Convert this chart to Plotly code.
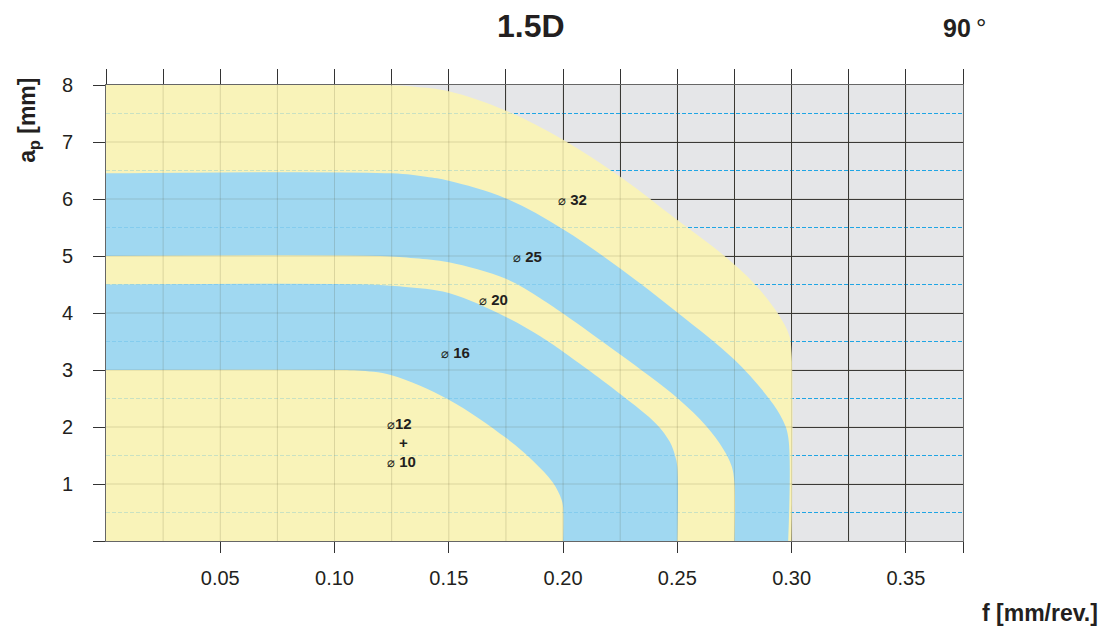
import plotly.graph_objects as go
import numpy as np

# ---------------- data ----------------
# boundary of each field: a_p limit vs feed f, ending with a vertical drop to a_p = 0
d32_f = [0.000, 0.120, 0.135, 0.150, 0.175, 0.200, 0.225, 0.250, 0.270, 0.284, 0.294, 0.299, 0.300, 0.300]
d32_ap = [8.00, 8.00, 7.97, 7.89, 7.55, 7.04, 6.39, 5.63, 5.02, 4.50, 3.99, 3.60, 3.30, 0.00]

d25_f = [0.000, 0.125, 0.140, 0.150, 0.175, 0.200, 0.225, 0.250, 0.275, 0.2905, 0.296, 0.2985, 0.2985]
d25_ap = [6.45, 6.45, 6.39, 6.32, 6.01, 5.47, 4.78, 4.01, 3.18, 2.48, 2.13, 1.83, 0.00]

d20_f = [0.000, 0.120, 0.135, 0.150, 0.175, 0.190, 0.200, 0.225, 0.250, 0.2628, 0.270, 0.2737, 0.275, 0.275]
d20_ap = [5.00, 5.00, 4.96, 4.89, 4.60, 4.26, 3.99, 3.27, 2.51, 2.01, 1.62, 1.32, 1.02, 0.00]

d16_f = [0.000, 0.115, 0.130, 0.150, 0.175, 0.190, 0.200, 0.225, 0.2409, 0.2467, 0.249, 0.250, 0.250]
d16_ap = [4.50, 4.50, 4.46, 4.35, 3.93, 3.59, 3.32, 2.58, 2.05, 1.74, 1.50, 1.30, 0.00]

d12_f = [0.000, 0.100, 0.110, 0.125, 0.150, 0.175, 0.187, 0.1956, 0.1993, 0.200, 0.200]
d12_ap = [3.00, 3.00, 2.99, 2.91, 2.48, 1.81, 1.40, 1.02, 0.73, 0.60, 0.00]

label_text = ["\u2300 32", "\u2300 25", "\u2300 20", "\u2300 16", "\u230012", "+", "\u2300 10"]
label_f = [0.197, 0.177, 0.1625, 0.1455, 0.1220, 0.130, 0.1222]
label_ap = [6.00, 5.00, 4.24, 3.30, 2.06, 1.72, 1.39]
label_anchor = ["left", "left", "left", "left", "left", "center", "left"]

x_tickvals = [0.05, 0.10, 0.15, 0.20, 0.25, 0.30, 0.35]
x_ticktext = ["0.05", "0.10", "0.15", "0.20", "0.25", "0.30", "0.35"]
y_tickvals = [1, 2, 3, 4, 5, 6, 7, 8]
y_ticktext = ["1", "2", "3", "4", "5", "6", "7", "8"]

# ---------------- style ----------------
YELLOW = "#f9f3b9"
BLUE = "#a0d8f1"
GREY = "#e5e6e8"
DARK = "#3a3a3a"
DASHBLUE = "#1fa6e4"
FONT = "Liberation Sans, Arial, Helvetica, sans-serif"
TXT = "#231f20"

X_MAX = 0.375
Y_MAX = 8
x_grid = np.round(np.arange(0, X_MAX + 1e-9, 0.025), 3)
y_half = np.arange(0.5, Y_MAX, 1.0)

fig = go.Figure()

regions = [(d32_f, d32_ap, YELLOW), (d25_f, d25_ap, BLUE), (d20_f, d20_ap, YELLOW),
           (d16_f, d16_ap, BLUE), (d12_f, d12_ap, YELLOW)]
for xs, ys, col in regions:
    fig.add_trace(go.Scatter(x=xs, y=ys, mode="lines",
                             line=dict(width=0, color=col, shape="spline", smoothing=1.0),
                             fill="tozeroy", fillcolor=col, hoverinfo="skip", showlegend=False))

# dummy traces for the extra tick axes (top ticks, edge ticks)
fig.add_trace(go.Scatter(x=[None], y=[None], xaxis="x2", showlegend=False, hoverinfo="skip"))
fig.add_trace(go.Scatter(x=[None], y=[None], xaxis="x3", yaxis="y2", showlegend=False, hoverinfo="skip"))

shapes = []
# bright dashed half-lines (seen in the grey field)
for yv in y_half:
    shapes.append(dict(type="line", xref="x", yref="y", x0=0, x1=X_MAX, y0=yv, y1=yv,
                       line=dict(color=DASHBLUE, width=1.2, dash="4px,2px"), layer="below"))
# faint grid lines shown through the coloured fields
for xv in x_grid[1:-1]:
    shapes.append(dict(type="line", xref="x", yref="y", x0=xv, x1=xv, y0=0, y1=Y_MAX,
                       line=dict(color="rgba(60,55,20,0.16)", width=1), layer="above"))
for yv in range(1, Y_MAX):
    shapes.append(dict(type="line", xref="x", yref="y", x0=0, x1=X_MAX, y0=yv, y1=yv,
                       line=dict(color="rgba(60,55,20,0.16)", width=1), layer="above"))
for yv in y_half:
    shapes.append(dict(type="line", xref="x", yref="y", x0=0, x1=X_MAX, y0=yv, y1=yv,
                       line=dict(color="rgba(31,166,228,0.22)", width=1, dash="4px,2px"), layer="above"))

annotations = []
for t, xv, yv, anc in zip(label_text, label_f, label_ap, label_anchor):
    txt = t.replace("\u2300", "<span style='font-size:13px;font-weight:normal'>\u2300</span>")
    annotations.append(dict(x=xv, y=yv, xref="x", yref="y", text="<b>" + txt + "</b>",
                            showarrow=False, xanchor=anc, yanchor="middle",
                            font=dict(family=FONT, size=15, color=TXT)))

annotations += [
    dict(x=0.4956, y=1.13, xref="paper", yref="paper", text="<b>1.5D</b>", showarrow=False,
         xanchor="center", yanchor="middle", font=dict(family=FONT, size=32, color=TXT)),
    dict(x=0.9745, y=1.126, xref="paper", yref="paper",
         text="<b>90</b><span style='font-size:26px'>\u2009\u00b0</span>", showarrow=False,
         xanchor="left", yanchor="middle", font=dict(family=FONT, size=25, color=TXT)),
    dict(x=-0.0905, y=0.9225, xref="paper", yref="paper", text="<b>a<sub>p</sub> [mm]</b>",
         showarrow=False, textangle=-90, xanchor="center", yanchor="middle",
         font=dict(family=FONT, size=23, color=TXT)),
    dict(x=1.0895, y=-0.157, xref="paper", yref="paper", text="<b>f [mm/rev.]</b>",
         showarrow=False, xanchor="center", yanchor="middle",
         font=dict(family=FONT, size=23, color=TXT)),
]

fig.update_layout(
    width=1106, height=633,
    margin=dict(l=98, r=151, t=77, b=100),
    paper_bgcolor="white", plot_bgcolor=GREY,
    showlegend=False,
    shapes=shapes, annotations=annotations,
    xaxis=dict(range=[0, X_MAX], tickvals=x_tickvals, ticktext=x_ticktext,
               ticks="outside", ticklen=11, tickcolor="#333", tickwidth=1,
               ticklabelstandoff=8,
               showgrid=True, gridcolor=DARK, gridwidth=1, zeroline=False,
               minor=dict(tickvals=list(x_grid), showgrid=True, gridcolor=DARK, gridwidth=1, ticks=""),
               showline=True, linecolor="#666", linewidth=1, mirror=True,
               tickfont=dict(family=FONT, size=20, color=TXT), fixedrange=True),
    xaxis2=dict(range=[0, X_MAX], overlaying="x", side="top", anchor="y",
                tickvals=list(x_grid), ticks="outside", ticklen=15, tickcolor="#333", tickwidth=1,
                showticklabels=False, showgrid=False, zeroline=False, showline=False),
    xaxis3=dict(range=[0, X_MAX], overlaying="x", side="bottom", anchor="y",
                tickvals=[X_MAX], ticks="outside", ticklen=11, tickcolor="#333", tickwidth=1,
                showticklabels=False, showgrid=False, zeroline=False, showline=False),
    yaxis=dict(range=[0, Y_MAX], tickvals=y_tickvals, ticktext=y_ticktext,
               ticks="outside", ticklen=12, tickcolor="#333", tickwidth=1,
               ticklabelstandoff=16,
               showgrid=True, gridcolor=DARK, gridwidth=1, zeroline=False,
               showline=True, linecolor="#666", linewidth=1, mirror=True,
               tickfont=dict(family=FONT, size=20, color=TXT), fixedrange=True),
    yaxis2=dict(range=[0, Y_MAX], overlaying="y", side="left", anchor="x",
                tickvals=[0], ticks="outside", ticklen=12, tickcolor="#333", tickwidth=1,
                showticklabels=False, showgrid=False, zeroline=False, showline=False),
)

fig.write_html("out.html")
